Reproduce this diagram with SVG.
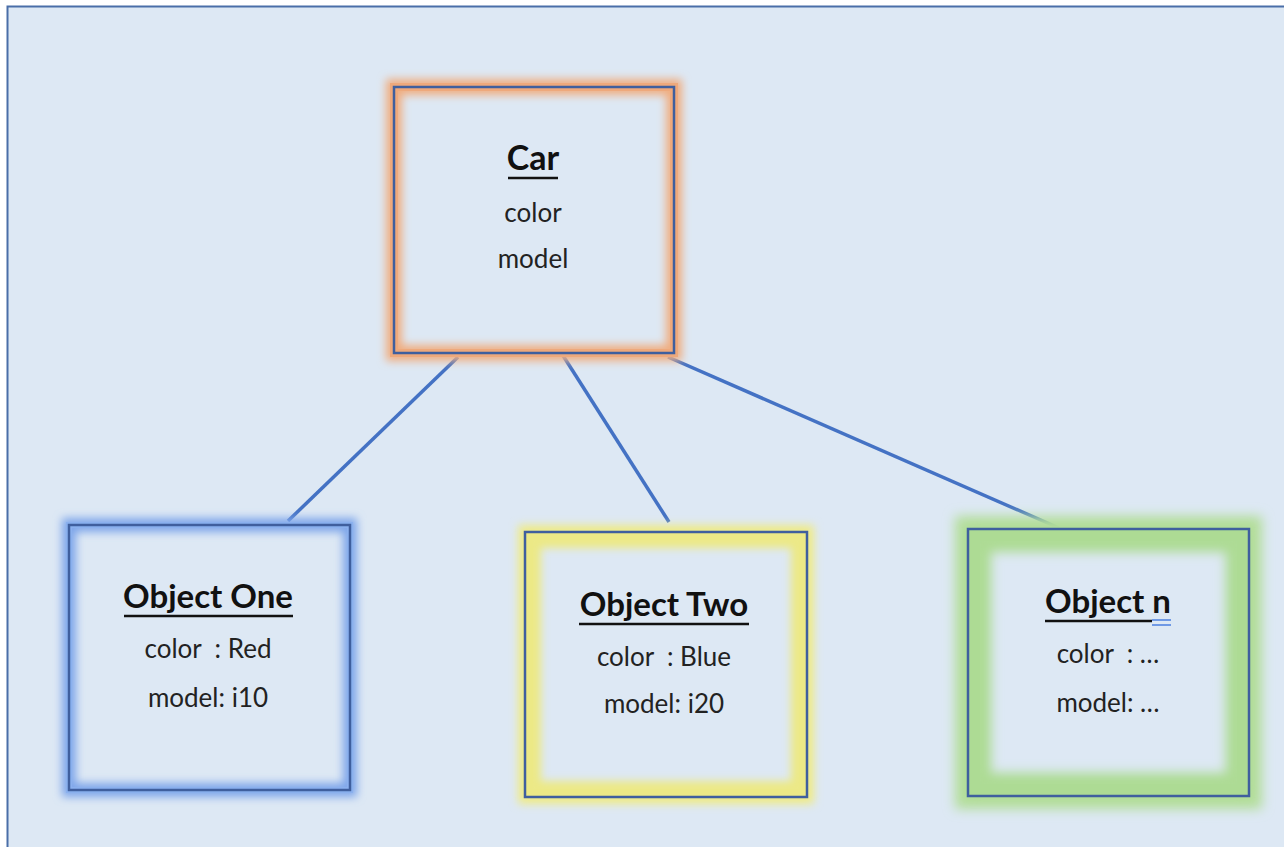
<svg xmlns="http://www.w3.org/2000/svg" width="1284" height="847" viewBox="0 0 1284 847">
<defs>
<style>
.title{font-family:Lato,"Liberation Sans",sans-serif;font-weight:bold;font-size:33px;fill:#111;text-anchor:middle}
.car{font-size:34px}
.attr{font-family:Lato,"Liberation Sans",sans-serif;font-size:26px;fill:#222;text-anchor:middle}
.box{fill:none;stroke:#3f5f9e;stroke-width:2.5}
.conn{stroke:#4472c4;stroke-width:3.5;fill:none}
.ul{stroke:#111;stroke-width:2.5}
</style>
<filter id="blur" x="-20%" y="-20%" width="140%" height="140%"><feGaussianBlur stdDeviation="4"/></filter>
<filter id="blur2" x="-20%" y="-20%" width="140%" height="140%"><feGaussianBlur stdDeviation="6"/></filter>
</defs>
<rect x="0" y="0" width="1284" height="847" fill="#ffffff"/>
<rect x="7.5" y="6.5" width="1290" height="850" fill="#dde8f4" stroke="#4a6ea8" stroke-width="2"/>

<g id="connectors">
<line class="conn" x1="458" y1="357" x2="288" y2="521"/>
<line class="conn" x1="562" y1="354" x2="669" y2="522"/>
<line class="conn" x1="668" y1="357" x2="1059" y2="528"/>
</g>

<g id="car">
<rect x="394" y="87" width="280" height="266" fill="none" stroke="#f0ad80" stroke-width="16" filter="url(#blur)"/>
<rect x="394" y="87" width="280" height="266" fill="none" stroke="#eea97c" stroke-width="8"/>
<rect x="394" y="87" width="280" height="266" class="box"/>
<text class="title car" x="533" y="170">Car</text>
<line class="ul" x1="508" y1="178" x2="558" y2="178"/>
<text class="attr" x="533" y="222">color</text>
<text class="attr" x="533" y="268">model</text>
</g>

<g id="object-one">
<rect x="69" y="525" width="281" height="265" fill="none" stroke="#7ea6ea" stroke-width="14" filter="url(#blur)"/>
<rect x="69" y="525" width="281" height="265" fill="none" stroke="#8ab0ee" stroke-width="6"/>
<rect x="69" y="525" width="281" height="265" class="box" stroke="#3a62a8" stroke-width="3"/>
<text class="title" x="208" y="608">Object One</text>
<line class="ul" x1="124" y1="616" x2="293" y2="616"/>
<text class="attr" x="208" y="658" xml:space="preserve">color  : Red</text>
<text class="attr" x="208" y="707">model: i10</text>
</g>

<g id="object-two">
<rect x="525" y="532" width="282" height="265" fill="none" stroke="#efeb8c" stroke-width="14" filter="url(#blur)"/>
<rect x="533" y="540" width="266" height="249" fill="none" stroke="#ece986" stroke-width="16" filter="url(#blur)"/>
<rect x="529" y="536" width="274" height="257" fill="none" stroke="#ece986" stroke-width="8"/>
<rect x="525" y="532" width="282" height="265" class="box"/>
<text class="title" x="664" y="616">Object Two</text>
<line class="ul" x1="579" y1="624" x2="749" y2="624"/>
<text class="attr" x="664" y="666" xml:space="preserve">color  : Blue</text>
<text class="attr" x="664" y="713">model: i20</text>
</g>

<g id="object-n">
<rect x="968" y="529" width="281" height="267" fill="none" stroke="#b3de9a" stroke-width="26" filter="url(#blur2)"/>
<rect x="980" y="541" width="257" height="243" fill="none" stroke="#addb94" stroke-width="22" filter="url(#blur2)"/>
<rect x="974" y="535" width="269" height="255" fill="none" stroke="#addb94" stroke-width="12"/>
<rect x="968" y="529" width="281" height="267" class="box"/>
<text class="title" x="1108" y="613">Object n</text>
<line class="ul" x1="1045" y1="621" x2="1152" y2="621"/>
<line x1="1152" y1="620" x2="1171" y2="620" stroke="#4a7fe0" stroke-width="1.5"/>
<line x1="1152" y1="625" x2="1171" y2="625" stroke="#4a7fe0" stroke-width="1.5"/>
<text class="attr" x="1108" y="663" xml:space="preserve">color  : …</text>
<text class="attr" x="1108" y="712">model: …</text>
</g>
</svg>
